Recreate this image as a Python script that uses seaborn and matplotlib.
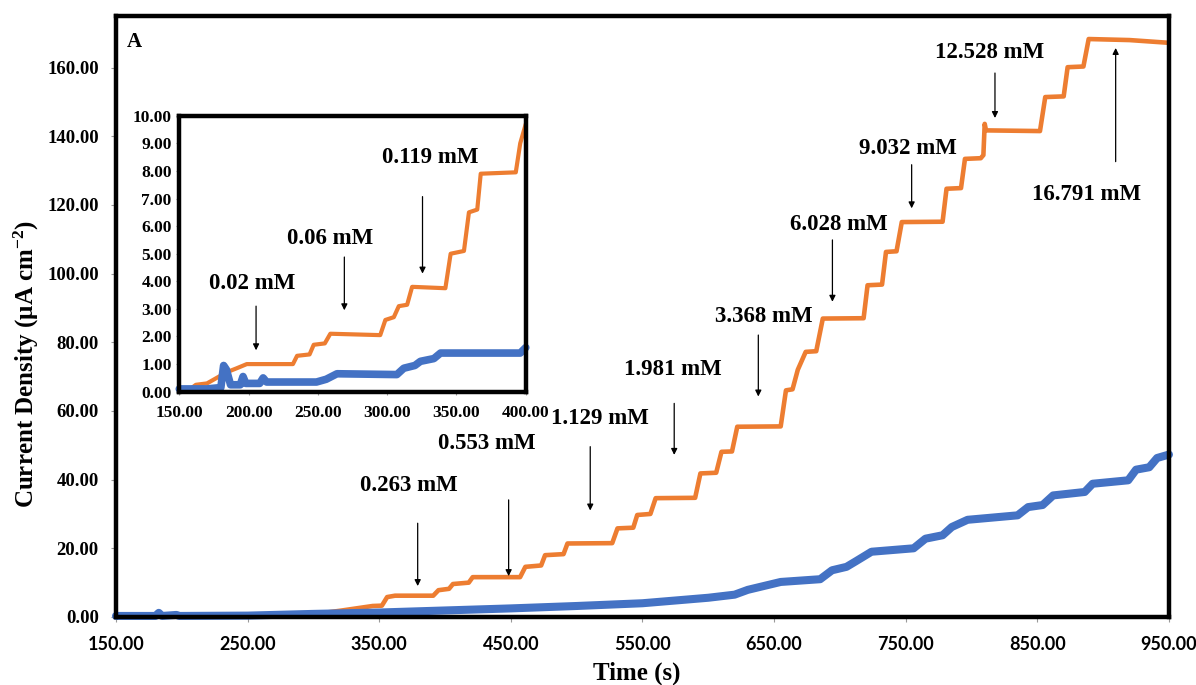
import numpy as np
import pandas as pd
import seaborn as sns
import matplotlib.pyplot as plt
from matplotlib.ticker import FormatStrFormatter

sns.set_theme(style='white')
plt.rcParams['font.family'] = ['Liberation Serif', 'DejaVu Serif']
plt.rcParams['font.weight'] = 'bold'
plt.rcParams['text.color'] = 'black'
plt.rcParams['xtick.labelcolor'] = 'black'
plt.rcParams['ytick.labelcolor'] = 'black'
plt.rcParams['mathtext.fontset'] = 'custom'
plt.rcParams['mathtext.rm'] = 'Liberation Serif:bold'
plt.rcParams['mathtext.bf'] = 'Liberation Serif:bold'
plt.rcParams['mathtext.default'] = 'bf'

ORANGE = '#ED7D31'
BLUE = '#4472C4'

# main chart, orange trace (time in s, current density in uA cm-2)
orange_t = [150, 250, 300, 320, 345, 352, 356, 362, 391, 395, 403, 406, 418, 421, 457,
            461, 473, 476, 490, 493, 527, 531, 543, 546, 556, 560, 590, 594, 606, 610,
            618, 622, 655, 659, 664, 668, 674, 682, 687, 718, 721, 732, 735, 743, 747,
            778, 781, 792, 795, 807, 809, 810, 811, 852, 856, 870, 873, 885, 889, 920, 950]
orange_i = [0.2, 0.3, 0.8, 1.8, 3.2, 3.3, 5.8, 6.2, 6.2, 7.8, 8.2, 9.6, 10.0, 11.6, 11.6,
            14.6, 15.0, 18.0, 18.3, 21.4, 21.5, 25.8, 26.0, 29.7, 30.0, 34.6, 34.7, 41.8, 42.0, 48.1,
            48.2, 55.4, 55.5, 66.0, 66.3, 72.0, 77.2, 77.4, 86.9, 87.0, 96.6, 96.8, 106.3, 106.5, 115.0,
            115.1, 124.7, 124.9, 133.4, 133.6, 134.5, 143.6, 141.7, 141.5, 151.4, 151.6, 160.1, 160.3, 168.3, 168.0, 167.2]

# main chart, blue trace
blue_t = [150, 180, 182.5, 185, 196, 198, 250, 300, 350, 400, 450, 500, 550, 575, 600, 620,
          630, 655, 685, 694, 705, 712, 724, 756, 765, 778, 785, 797, 835, 843, 854, 862,
          886, 892, 919, 925, 935, 941, 950]
blue_i = [0.3, 0.3, 1.2, 0.3, 0.6, 0.3, 0.4, 0.9, 1.3, 1.9, 2.5, 3.2, 4.0, 4.8, 5.6, 6.5,
          7.9, 10.2, 11.0, 13.6, 14.6, 16.2, 19.0, 20.0, 22.8, 23.8, 26.2, 28.3, 29.6, 32.0, 32.6, 35.4,
          36.4, 38.8, 39.8, 42.9, 43.6, 46.3, 47.3]

# inset, orange trace
inset_orange_t = [150, 158, 162, 170, 177, 184, 191.5, 198.7, 232, 235, 244, 247, 255, 259,
                  295, 298.7, 304.8, 308.4, 314.4, 318, 342, 345.8, 355.4, 359, 365, 367.5,
                  392.8, 396, 400]
inset_orange_i = [0.05, 0.1, 0.25, 0.3, 0.5, 0.7, 0.85, 1.0, 1.0, 1.3, 1.35, 1.7, 1.75, 2.1,
                  2.05, 2.6, 2.7, 3.1, 3.15, 3.8, 3.75, 5.0, 5.1, 6.5, 6.6, 7.9,
                  7.95, 9.0, 9.7]

# inset, blue trace
inset_blue_t = [150, 170, 180, 182, 184, 187, 194, 196, 198, 208, 210.5, 213, 249, 256,
                263.8, 307, 312, 320, 324, 333.7, 338.5, 396, 400]
inset_blue_i = [0.1, 0.1, 0.15, 0.95, 0.8, 0.25, 0.25, 0.55, 0.3, 0.3, 0.5, 0.35, 0.35, 0.45,
                0.65, 0.62, 0.85, 0.95, 1.1, 1.2, 1.4, 1.4, 1.6]

# axis ticks
main_xticks = [150, 250, 350, 450, 550, 650, 750, 850, 950]
main_yticks = [0, 20, 40, 60, 80, 100, 120, 140, 160]
inset_xticks = [150, 200, 250, 300, 350, 400]
inset_yticks = [0, 1, 2, 3, 4, 5, 6, 7, 8, 9, 10]

# concentration labels
main_labels = ['0.263 mM', '0.553 mM', '1.129 mM', '1.981 mM', '3.368 mM',
               '6.028 mM', '9.032 mM', '12.528 mM', '16.791 mM']
inset_labels = ['0.02 mM', '0.06 mM', '0.119 mM']

# label centres and arrows (data coordinates)
main_label_x = [372.8, 431.6, 517.5, 573.4, 641.8, 699.5, 751.9, 814.0, 887.4]
main_label_y = [38.2, 50.6, 57.9, 72.2, 87.5, 114.2, 136.5, 164.3, 122.9]
main_arrow_x = [379.2, 448.3, 510.3, 574.1, 638.0, 694.3, 754.5, 817.8, 909.5]
main_arrow_tail = [27.3, 34.1, 49.6, 62.2, 82.1, 109.8, 131.7, 158.4, 132.6]
main_arrow_tip = [9.0, 11.9, 31.0, 47.2, 64.2, 91.8, 119.0, 145.3, 165.7]

inset_label_x = [202.3, 258.5, 331.3]
inset_label_y = [3.92, 5.54, 8.49]
inset_arrow_x = [205.4, 269.1, 325.5]
inset_arrow_tail = [3.1, 4.88, 7.07]
inset_arrow_tip = [1.5, 2.95, 4.28]

main_df = pd.DataFrame({'t': orange_t, 'i': orange_i})
main_blue_df = pd.DataFrame({'t': blue_t, 'i': blue_i})
ins_df = pd.DataFrame({'t': inset_orange_t, 'i': inset_orange_i})
ins_blue_df = pd.DataFrame({'t': inset_blue_t, 'i': inset_blue_i})

fig = plt.figure(figsize=(11.96, 6.85), dpi=100)
ax = fig.add_axes([0.0970, 0.0993, 0.8804, 0.8773])

sns.lineplot(data=main_df, x='t', y='i', ax=ax, color=ORANGE, linewidth=3.3,
             estimator=None, sort=False)
sns.lineplot(data=main_blue_df, x='t', y='i', ax=ax, color=BLUE, linewidth=5.8,
             estimator=None, sort=False, solid_capstyle='round', clip_on=False)

ax.set_xlim(150, 950)
ax.set_ylim(0, 175)
ax.set_xticks(main_xticks)
ax.set_yticks(main_yticks)
ax.xaxis.set_major_formatter(FormatStrFormatter('%.2f'))
ax.yaxis.set_major_formatter(FormatStrFormatter('%.2f'))
ax.set_xlabel('')
ax.set_ylabel('')
for s in ax.spines.values():
    s.set_linewidth(3.2)
    s.set_color('black')
ax.tick_params(axis='both', which='major', direction='out', length=3.5, width=0.8,
               color='#999999', bottom=True, left=True)
ax.tick_params(axis='x', pad=10)
ax.tick_params(axis='y', pad=9)
for lab in ax.get_xticklabels():
    lab.set_fontfamily('Lato')
    lab.set_fontweight('bold')
    lab.set_fontsize(13)
for lab in ax.get_yticklabels():
    lab.set_fontweight('bold')
    lab.set_fontsize(13.5)

ax.text(164, 167.5, 'A', fontsize=15, fontweight='bold', ha='center', va='center')

arrow_kw = dict(arrowstyle='-|>', color='black', lw=0.9, mutation_scale=9,
                shrinkA=0, shrinkB=0)
for k, lab in enumerate(main_labels):
    ax.text(main_label_x[k], main_label_y[k], lab, fontsize=16.5, fontweight='bold',
            ha='center', va='center', zorder=6)
    ax.annotate('', xy=(main_arrow_x[k], main_arrow_tip[k]),
                xytext=(main_arrow_x[k], main_arrow_tail[k]), arrowprops=arrow_kw)

fig.text(0.5328, 0.017, 'Time (s)', fontsize=18, fontweight='bold', ha='center', va='center')
fig.text(0.0223, 0.468, 'Current Density (\u03bcA cm$^{-2}$)', fontsize=18,
         fontweight='bold', ha='center', va='center', rotation=90)

# inset
axi = fig.add_axes([0.1499, 0.4282, 0.2897, 0.4028])
axi.set_facecolor('white')
sns.lineplot(data=ins_df, x='t', y='i', ax=axi, color=ORANGE, linewidth=3.0,
             estimator=None, sort=False)
sns.lineplot(data=ins_blue_df, x='t', y='i', ax=axi, color=BLUE, linewidth=5.5,
             estimator=None, sort=False, solid_capstyle='round', clip_on=False)
axi.set_xlim(150, 400)
axi.set_ylim(0, 10)
axi.set_xticks(inset_xticks)
axi.set_yticks(inset_yticks)
axi.xaxis.set_major_formatter(FormatStrFormatter('%.2f'))
axi.yaxis.set_major_formatter(FormatStrFormatter('%.2f'))
axi.set_xlabel('')
axi.set_ylabel('')
for s in axi.spines.values():
    s.set_linewidth(3.2)
    s.set_color('black')
axi.tick_params(axis='both', which='major', direction='out', length=2.5, width=0.8,
                color='#999999', bottom=True, left=True, labelsize=12.5)
axi.tick_params(axis='x', pad=7)
axi.tick_params(axis='y', pad=3)
for lab in axi.get_xticklabels() + axi.get_yticklabels():
    lab.set_fontweight('bold')

for k, lab in enumerate(inset_labels):
    axi.text(inset_label_x[k], inset_label_y[k], lab, fontsize=16.5, fontweight='bold',
             ha='center', va='center')
    axi.annotate('', xy=(inset_arrow_x[k], inset_arrow_tip[k]),
                 xytext=(inset_arrow_x[k], inset_arrow_tail[k]), arrowprops=arrow_kw)

fig.savefig('out.png', dpi=100)
